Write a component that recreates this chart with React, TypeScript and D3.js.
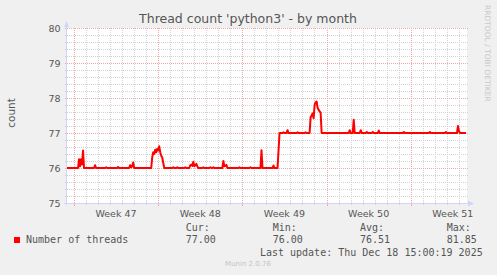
import React from "react";
import * as d3 from "d3";

const W = 497;
const H = 275;

// time window: hours measured from the left edge of the graph
const START_MS = Date.UTC(2025, 10, 15, 10, 15);
const SPAN_HOURS = 798;

const hours = [
  0, 22, 24, 26, 28, 30, 32, 34, 54, 56, 58, 76, 78, 80, 100, 102, 104, 124, 126, 128, 130, 132, 134,
  168, 170, 172, 174, 176, 178, 180, 182, 184, 186, 188, 190, 192, 194,
  210, 212, 214, 218, 220, 222, 234, 236, 238, 244, 246, 248, 250, 252, 254, 256, 258, 260, 262,
  270, 272, 274, 284, 286, 288, 290, 292, 294, 310, 312, 314, 316, 318, 320, 342, 344, 346,
  364, 366, 368, 386, 388, 390, 410, 412, 414, 420, 424, 430, 432, 434, 438, 440, 442,
  458, 460, 462, 474, 476, 478, 484, 486, 488, 490, 492, 494, 496, 498, 500, 502, 504, 506, 508,
  562, 564, 566, 570, 572, 574, 584, 586, 588, 596, 598, 600, 608, 610, 612, 620, 622, 624,
  670, 672, 674, 722, 724, 726, 754, 756, 758, 778, 780, 782, 784, 796,
];

const threads = [
  76.0, 76.0, 76.25, 76.05, 76.25, 76.1, 76.5, 76.0, 76.0, 76.08, 76.0, 76.0, 76.02, 76.0, 76.0, 76.03, 76.0, 76.0, 76.08, 76.02, 76.05, 76.16, 76.0,
  76.0, 76.3, 76.45, 76.4, 76.52, 76.45, 76.55, 76.5, 76.62, 76.45, 76.35, 76.3, 76.15, 76.0,
  76.0, 76.02, 76.0, 76.0, 76.02, 76.0, 76.0, 76.02, 76.0, 76.0, 76.08, 76.1, 76.06, 76.18, 76.05, 76.08, 76.12, 76.05, 76.0,
  76.0, 76.02, 76.0, 76.0, 76.02, 76.0, 76.0, 76.02, 76.0, 76.0, 76.2, 76.05, 76.06, 76.09, 76.0, 76.0, 76.02, 76.0,
  76.0, 76.02, 76.0, 76.0, 76.51, 76.0, 76.0, 76.07, 76.0, 76.0, 77.0, 77.0, 77.02, 77.0, 77.0, 77.08, 77.0,
  77.0, 77.02, 77.0, 77.0, 77.02, 77.0, 77.0, 77.45, 77.5, 77.56, 77.42, 77.8, 77.88, 77.9, 77.72, 77.66, 77.62, 77.58, 77.0,
  77.0, 77.08, 77.0, 77.0, 77.38, 77.0, 77.0, 77.08, 77.0, 77.0, 77.03, 77.0, 77.0, 77.03, 77.0, 77.0, 77.07, 77.0,
  77.0, 77.03, 77.0, 77.0, 77.03, 77.0, 77.0, 77.03, 77.0, 77.0, 77.2, 77.05, 77.0, 77.0,
];

const yMajorTicks = [75, 76, 77, 78, 79, 80];
const seriesLabel = "Number of threads";
const statHeaders = ["Cur:", "Min:", "Avg:", "Max:"];
const statValues = ["77.00", "76.00", "76.51", "81.85"];
const titleText = "Thread count 'python3' - by month";
const yAxisLabel = "count";
const lastUpdate = "Last update: Thu Dec 18 15:00:19 2025";
const watermark = "RRDTOOL / TOBI OETIKER";
const footer = "Munin 2.0.76";

const SANS = "'DejaVu Sans', sans-serif";
const MONO = "'DejaVu Sans Mono', monospace";

export default function App() {
  const left = 67;
  const right = 467;
  const top = 28;
  const bottom = 203;
  const start = new Date(START_MS);
  const end = new Date(START_MS + SPAN_HOURS * 3600 * 1000);

  const x = d3.scaleUtc().domain([start, end]).range([left, right]);
  const y = d3.scaleLinear().domain([75, 80]).range([bottom, top]);

  const data = hours.map((h, i) => ({
    t: new Date(START_MS + h * 3600 * 1000),
    v: threads[i],
  }));

  const line = d3
    .line<{ t: Date; v: number }>()
    .x((d) => x(d.t))
    .y((d) => y(d.v));

  const days = d3.utcDay.range(start, end);
  const weeks = d3.utcSunday.range(start, end);
  const minorY = d3.range(75, 80.0001, 0.2).map((v) => Math.round(v * 10) / 10);
  const weekLabels = d3.utcSunday
    .range(d3.utcDay.offset(start, -7), end)
    .map((s) => new Date(s.getTime() + 3.5 * 86400000))
    .filter((m) => m >= start && m <= end);
  const fmtWeek = d3.utcFormat("%V");

  const px = (v: number) => Math.round(v) + 0.5;

  const minorColor = "#d2d2d2";
  const majorColor = "#f0a8a8";
  const axisColor = "#cfd6f8";
  const fontColor = "#555555";

  const statX = [185.7, 272.7, 360, 446.7];

  return (
    <svg width={W} height={H} style={{ display: "block", position: "absolute", left: 0, top: 0 }}>
      <rect x={0} y={0} width={W} height={H} fill="#f0f0f0" />
      <rect x={left} y={top} width={right - left} height={bottom - top} fill="#ffffff" />

      {/* minor horizontal grid */}
      {minorY
        .filter((v) => !yMajorTicks.includes(v))
        .map((v) => (
          <g key={"mh" + v}>
            <line x1={left} x2={right + 1} y1={px(y(v))} y2={px(y(v))} stroke={minorColor} strokeDasharray="1,1" />
            <line x1={left - 2} x2={left} y1={px(y(v))} y2={px(y(v))} stroke={minorColor} />
          </g>
        ))}
      {/* minor vertical grid */}
      {days.map((d) => (
        <g key={"mv" + d.getTime()}>
          <line x1={px(x(d))} x2={px(x(d))} y1={top} y2={bottom} stroke={minorColor} strokeDasharray="1,1" />
          <line x1={px(x(d))} x2={px(x(d))} y1={bottom} y2={bottom + 2} stroke={minorColor} />
        </g>
      ))}
      {/* major horizontal grid */}
      {yMajorTicks.map((v) => (
        <g key={"Mh" + v}>
          <line x1={left} x2={right + 1} y1={px(y(v))} y2={px(y(v))} stroke={majorColor} strokeDasharray="1,1" />
          <line x1={left - 2} x2={left} y1={px(y(v))} y2={px(y(v))} stroke={majorColor} />
        </g>
      ))}
      {/* major vertical grid */}
      {weeks.map((d) => (
        <g key={"Mv" + d.getTime()}>
          <line x1={px(x(d))} x2={px(x(d))} y1={top} y2={bottom} stroke={majorColor} strokeDasharray="1,1" />
          <line x1={px(x(d))} x2={px(x(d))} y1={bottom} y2={bottom + 3} stroke={majorColor} />
        </g>
      ))}

      {/* axes */}
      <line x1={px(left - 1)} x2={px(left - 1)} y1={bottom + 2} y2={top - 4} stroke={axisColor} />
      <path d={`M${left - 3},${top - 1} L${left + 2},${top - 1} L${left - 0.5},${top - 7} Z`} fill={axisColor} />
      <line x1={left - 3} x2={right + 3} y1={px(bottom)} y2={px(bottom)} stroke={axisColor} />
      <path d={`M${right + 1},${bottom - 2.5} L${right + 1},${bottom + 3.5} L${right + 7},${bottom + 0.5} Z`} fill={axisColor} />

      {/* series */}
      <path d={line(data) ?? ""} fill="none" stroke="#ff0000" strokeWidth={2} strokeLinejoin="round" />

      {/* y tick labels */}
      {yMajorTicks.map((v) => (
        <text key={"yl" + v} x={60.5} y={y(v) + 3.6} textAnchor="end" fontFamily={SANS} fontSize={9.5} fill={fontColor}>
          {v}
        </text>
      ))}

      {/* week labels */}
      {weekLabels.map((m) => (
        <text key={"wl" + m.getTime()} x={x(m)} y={216.5} textAnchor="middle" fontFamily={SANS} fontSize={9.5} fill={fontColor}>
          {"Week " + +fmtWeek(m)}
        </text>
      ))}

      {/* title */}
      <text x={248} y={23} textAnchor="middle" fontFamily={SANS} fontSize={12.5} fill={fontColor}>
        {titleText}
      </text>

      {/* y axis label */}
      <text transform="translate(15,113) rotate(-90)" textAnchor="middle" fontFamily={SANS} fontSize={10.5} fill={fontColor}>
        {yAxisLabel}
      </text>

      {/* watermark */}
      <text transform="translate(485,5) rotate(90)" textAnchor="start" fontFamily={SANS} fontSize={7.5} fill="#c8c8c8">
        {watermark}
      </text>

      {/* legend */}
      <rect x={14} y={237} width={6} height={6} fill="#ff0000" />
      <text x={26} y={243} fontFamily={MONO} fontSize={10} fill={fontColor} style={{ whiteSpace: "pre" }}>
        {seriesLabel}
      </text>
      {statHeaders.map((s, i) => (
        <text key={"sh" + i} x={statX[i]} y={231} fontFamily={MONO} fontSize={10} fill={fontColor}>
          {s}
        </text>
      ))}
      {statValues.map((s, i) => (
        <text key={"sv" + i} x={statX[i]} y={243} fontFamily={MONO} fontSize={10} fill={fontColor}>
          {s}
        </text>
      ))}
      <text x={482.7} y={255.5} textAnchor="end" fontFamily={MONO} fontSize={10} fill={fontColor} style={{ whiteSpace: "pre" }}>
        {lastUpdate}
      </text>
      <text x={248} y={266} textAnchor="middle" fontFamily={SANS} fontSize={7} fill="#c4c4c4">
        {footer}
      </text>
    </svg>
  );
}
